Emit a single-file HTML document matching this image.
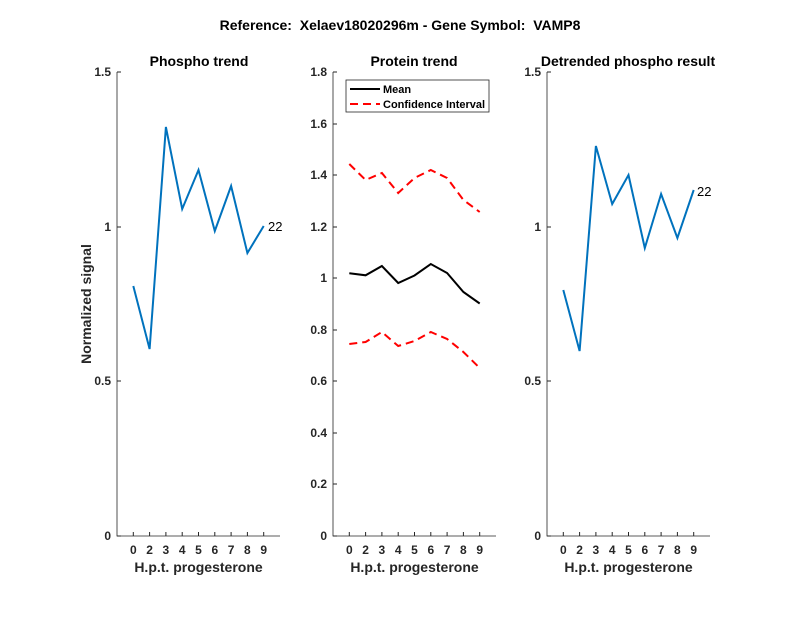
<!DOCTYPE html>
<html><head><style>body{margin:0;background:#fff}svg{display:block;font-family:"Liberation Sans",sans-serif}</style></head><body>
<svg width="800" height="618" viewBox="0 0 800 618" xmlns="http://www.w3.org/2000/svg">
<rect width="800" height="618" fill="#fff"/>
<text x="400" y="30" text-anchor="middle" font-size="14" font-weight="bold">Reference:&#160; Xelaev18020296m - Gene Symbol:&#160; VAMP8</text>
<g font-size="12" font-weight="bold" fill="#262626" stroke="none">
<!-- Panel 1 -->
<text x="199" y="66" text-anchor="middle" font-size="14" font-weight="bold" fill="#000">Phospho trend</text>
<path d="M117,72V536H280" fill="none" stroke="#262626" stroke-width="0.8"/>
<path d="M117,72h4M117,227h4M117,381h4M117,536h4" stroke="#262626"/>
<text x="111" y="76" text-anchor="end">1.5</text><text x="111" y="231" text-anchor="end">1</text><text x="111" y="385" text-anchor="end">0.5</text><text x="111" y="540" text-anchor="end">0</text>
<text transform="translate(91,304) rotate(-90)" text-anchor="middle" font-size="14" font-weight="bold">Normalized signal</text>
<polyline points="133.3,286 149.6,349 165.9,127 182.2,209 198.5,170 214.8,231 231.1,186 247.4,253 263.7,226" fill="none" stroke="#0072BD" stroke-width="2"/>
<text x="268" y="231" font-size="13" font-weight="normal" fill="#000">22</text>
<!-- Panel 3 -->
<text x="628" y="66" text-anchor="middle" font-size="14" font-weight="bold" fill="#000">Detrended phospho result</text>
<path d="M547,72V536H710" fill="none" stroke="#262626" stroke-width="0.8"/>
<path d="M547,72h4M547,227h4M547,381h4M547,536h4" stroke="#262626"/>
<text x="541" y="76" text-anchor="end">1.5</text><text x="541" y="231" text-anchor="end">1</text><text x="541" y="385" text-anchor="end">0.5</text><text x="541" y="540" text-anchor="end">0</text>
<polyline points="563.3,290 579.6,351 595.9,146 612.2,204 628.5,175 644.8,248 661.1,194 677.4,238 693.7,190" fill="none" stroke="#0072BD" stroke-width="2"/>
<text x="697" y="196" font-size="13" font-weight="normal" fill="#000">22</text>
<!-- Panel 2 -->
<text x="414" y="66" text-anchor="middle" font-size="14" font-weight="bold" fill="#000">Protein trend</text>
<path d="M333,72V536H496" fill="none" stroke="#262626" stroke-width="0.8"/>
<path d="M333,72h4M333,124h4M333,175h4M333,227h4M333,278h4M333,330h4M333,381h4M333,433h4M333,484h4M333,536h4" stroke="#262626"/>
<text x="327" y="76" text-anchor="end">1.8</text><text x="327" y="128" text-anchor="end">1.6</text><text x="327" y="179" text-anchor="end">1.4</text><text x="327" y="231" text-anchor="end">1.2</text><text x="327" y="282" text-anchor="end">1</text><text x="327" y="334" text-anchor="end">0.8</text><text x="327" y="385" text-anchor="end">0.6</text><text x="327" y="437" text-anchor="end">0.4</text><text x="327" y="488" text-anchor="end">0.2</text><text x="327" y="540" text-anchor="end">0</text>
<polyline points="349.3,273.3 365.6,275.3 381.9,266 398.2,283 414.5,275.5 430.8,264 447.1,273 463.4,292 479.7,303.5" fill="none" stroke="#000" stroke-width="2"/>
<polyline points="349.3,164 365.6,180 381.9,173 398.2,193 414.5,178 430.8,170 447.1,178 463.4,200 479.7,212" fill="none" stroke="#f00" stroke-width="2" stroke-dasharray="8,5"/>
<polyline points="349.3,344 365.6,342 381.9,332 398.2,346 414.5,341 430.8,332 447.1,339 463.4,352 479.7,368" fill="none" stroke="#f00" stroke-width="2" stroke-dasharray="8,5"/>
<rect x="346" y="80" width="143" height="32" fill="#fff" stroke="#262626" stroke-width="0.8"/>
<line x1="350" y1="89" x2="380" y2="89" stroke="#000" stroke-width="2"/>
<line x1="350" y1="104" x2="380" y2="104" stroke="#f00" stroke-width="2" stroke-dasharray="8,5"/>
<text x="383" y="93" font-size="11" font-weight="bold" fill="#000">Mean</text>
<text x="383" y="108" font-size="11" font-weight="bold" fill="#000">Confidence Interval</text>
</g>
<!-- x ticks & labels -->
<g font-size="12" font-weight="bold" fill="#262626" text-anchor="middle">
<g id="xt">
<path d="M133.3,536v-4M149.6,536v-4M165.9,536v-4M182.2,536v-4M198.5,536v-4M214.8,536v-4M231.1,536v-4M247.4,536v-4M263.7,536v-4" stroke="#262626"/>
<text x="133.3" y="554">0</text><text x="149.6" y="554">2</text><text x="165.9" y="554">3</text><text x="182.2" y="554">4</text><text x="198.5" y="554">5</text><text x="214.8" y="554">6</text><text x="231.1" y="554">7</text><text x="247.4" y="554">8</text><text x="263.7" y="554">9</text>
<text x="198.5" y="572" font-size="14">H.p.t. progesterone</text>
</g>
<use href="#xt" x="216"/>
<use href="#xt" x="430"/>
</g>
</svg>
</body></html>
